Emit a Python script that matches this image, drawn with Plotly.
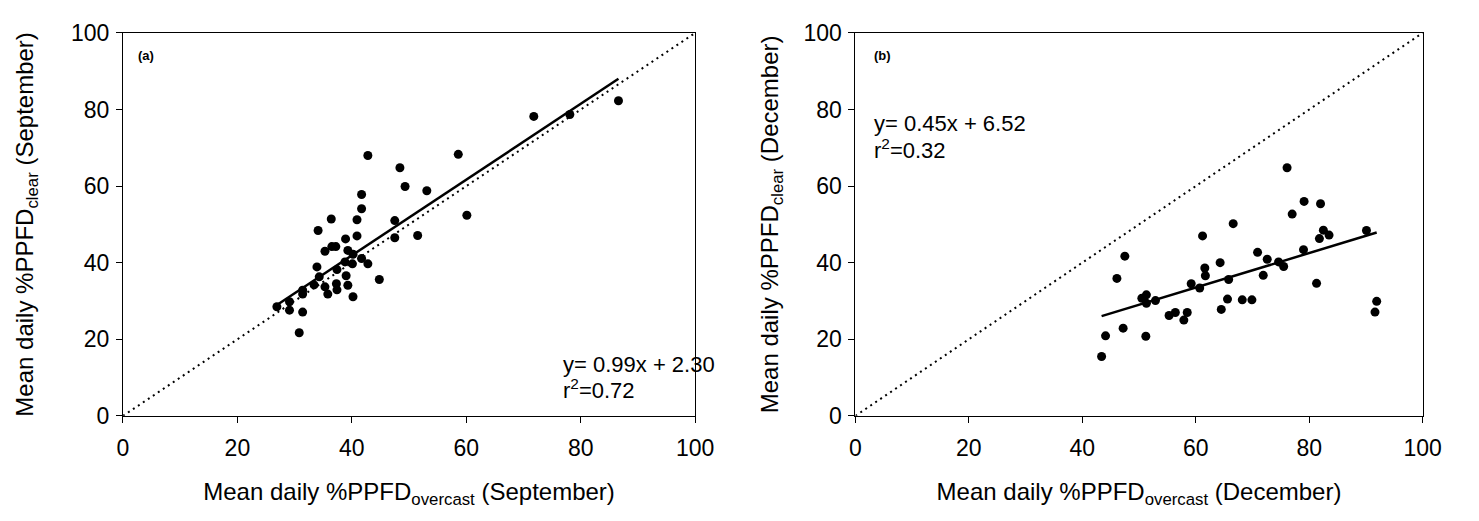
import plotly.graph_objects as go

# Panel (a): September
sep_overcast = [42.8, 48.4, 49.3, 53.1, 41.7, 41.7, 36.4, 40.9, 47.5,
                34.1, 38.9, 40.9, 47.5, 51.5, 36.5, 37.2, 35.3, 39.3, 40.2,
                38.8, 40.1, 41.7, 42.8, 33.9, 37.4, 34.3, 39.0, 44.8, 33.4,
                35.3, 37.3, 39.3, 31.4, 31.4, 35.8, 37.4, 40.2, 29.1, 26.9,
                29.1, 31.4, 30.8,
                58.6, 60.1, 71.8, 78.1, 86.6]
sep_clear = [68.0, 64.8, 59.9, 58.8, 57.8, 54.1, 51.4, 51.2, 51.0,
             48.4, 46.2, 47.0, 46.5, 47.1, 44.2, 44.2, 43.0, 43.2, 42.2,
             40.2, 39.7, 41.1, 39.7, 38.9, 38.2, 36.3, 36.6, 35.6, 34.2,
             33.7, 34.5, 34.1, 32.8, 31.8, 31.8, 32.9, 31.1, 29.8, 28.5,
             27.6, 27.1, 21.7,
             68.3, 52.4, 78.2, 78.7, 82.3]

# Panel (b): December
dec_overcast = [43.4, 44.1, 46.1, 47.2, 47.5, 50.5, 51.3, 51.3, 51.2, 52.9,
                55.3, 56.4, 57.9, 58.5, 59.2, 60.7, 61.2, 61.6, 61.7, 64.3,
                64.5, 65.6, 65.8, 66.6, 68.2, 69.9, 70.9, 71.9, 72.6, 74.6,
                75.5, 76.1, 77.0, 79.0, 79.1, 81.3, 81.8, 82.0, 82.5, 83.5,
                90.1, 91.6, 91.9]
dec_clear = [15.5, 20.9, 35.9, 22.9, 41.7, 30.7, 31.6, 29.4, 20.8, 30.1,
             26.2, 27.0, 25.0, 27.0, 34.5, 33.4, 47.0, 38.6, 36.6, 40.0,
             27.8, 30.5, 35.6, 50.2, 30.3, 30.3, 42.7, 36.7, 40.9, 40.2,
             39.0, 64.8, 52.7, 43.4, 56.0, 34.6, 46.3, 55.4, 48.5, 47.2,
             48.4, 27.1, 29.9]

# Regression coefficients (from the figure's annotations)
sep_slope, sep_icpt, sep_r2 = 0.99, 2.30, 0.72
dec_slope, dec_icpt, dec_r2 = 0.45, 6.52, 0.32

one_to_one = [0, 100]
tick_vals = [0, 20, 40, 60, 80, 100]

FONT = "Liberation Sans, Arial, sans-serif"

fig = go.Figure()

def add_panel(xs, ys, slope, icpt, xa, ya):
    fig.add_trace(go.Scatter(x=one_to_one, y=one_to_one, mode="lines",
                             line=dict(color="black", width=2, dash="2px,4px"),
                             xaxis=xa, yaxis=ya, showlegend=False, hoverinfo="skip"))
    x0, x1 = min(xs), max(xs)
    fig.add_trace(go.Scatter(x=[x0, x1], y=[slope * x0 + icpt, slope * x1 + icpt],
                             mode="lines", line=dict(color="black", width=2.5),
                             xaxis=xa, yaxis=ya, showlegend=False))
    fig.add_trace(go.Scatter(x=xs, y=ys, mode="markers",
                             marker=dict(color="black", size=9, symbol="circle"),
                             xaxis=xa, yaxis=ya, showlegend=False))

add_panel(sep_overcast, sep_clear, sep_slope, sep_icpt, "x", "y")
add_panel(dec_overcast, dec_clear, dec_slope, dec_icpt, "x2", "y2")

H = 521.0
W = 1479.0
ydom = [(H - 424) / H, (H - 21) / H]

axis_common = dict(range=[0, 100], tickvals=tick_vals, ticks="outside", ticklen=6,
                   tickwidth=1, tickcolor="black", showline=True, linecolor="black",
                   linewidth=1, mirror=True, showgrid=False, zeroline=False,
                   tickfont=dict(family=FONT, size=23, color="black"))

TSIZE = 24
fig.update_layout(
    width=1479, height=521,
    margin=dict(l=0, r=0, t=0, b=0),
    paper_bgcolor="white", plot_bgcolor="white",
    font=dict(family=FONT, color="black"),
    xaxis=dict(domain=[119 / W, 701 / W], anchor="y", ticklabelstandoff=6,
               title=dict(text="Mean daily %PPFD<sub>overcast</sub> (September)",
                          font=dict(family=FONT, size=TSIZE), standoff=22),
               **axis_common),
    yaxis=dict(domain=ydom, anchor="x", ticklabelstandoff=2,
               title=dict(text="Mean daily %PPFD<sub>clear</sub> (September)",
                          font=dict(family=FONT, size=TSIZE), standoff=30),
               **axis_common),
    xaxis2=dict(domain=[864 / W, 1441 / W], anchor="y2", ticklabelstandoff=6,
                title=dict(text="Mean daily %PPFD<sub>overcast</sub> (December)",
                           font=dict(family=FONT, size=TSIZE), standoff=22),
                **axis_common),
    yaxis2=dict(domain=ydom, anchor="x2", ticklabelstandoff=2,
                title=dict(text="Mean daily %PPFD<sub>clear</sub> (December)",
                           font=dict(family=FONT, size=TSIZE), standoff=18),
                **axis_common),
)

ann_font = dict(family=FONT, size=22, color="black")
fig.add_annotation(x=2.2, y=94, xref="x", yref="y", text="<b>(a)</b>", showarrow=False,
                   xanchor="left", yanchor="middle", font=dict(family=FONT, size=13))
fig.add_annotation(x=2.9, y=94, xref="x2", yref="y2", text="<b>(b)</b>", showarrow=False,
                   xanchor="left", yanchor="middle", font=dict(family=FONT, size=13))
fig.add_annotation(x=76.5, y=13.5, xref="x", yref="y",
                   text=f"y= {sep_slope:.2f}x + {sep_icpt:.2f}", showarrow=False,
                   xanchor="left", yanchor="middle", font=ann_font)
fig.add_annotation(x=76.5, y=7.0, xref="x", yref="y",
                   text=f"r<sup>2</sup>={sep_r2:.2f}", showarrow=False,
                   xanchor="left", yanchor="middle", font=ann_font)
fig.add_annotation(x=2.9, y=76.3, xref="x2", yref="y2",
                   text=f"y= {dec_slope:.2f}x + {dec_icpt:.2f}", showarrow=False,
                   xanchor="left", yanchor="middle", font=ann_font)
fig.add_annotation(x=2.9, y=69.6, xref="x2", yref="y2",
                   text=f"r<sup>2</sup>={dec_r2:.2f}", showarrow=False,
                   xanchor="left", yanchor="middle", font=ann_font)

fig.write_html("out.html")
